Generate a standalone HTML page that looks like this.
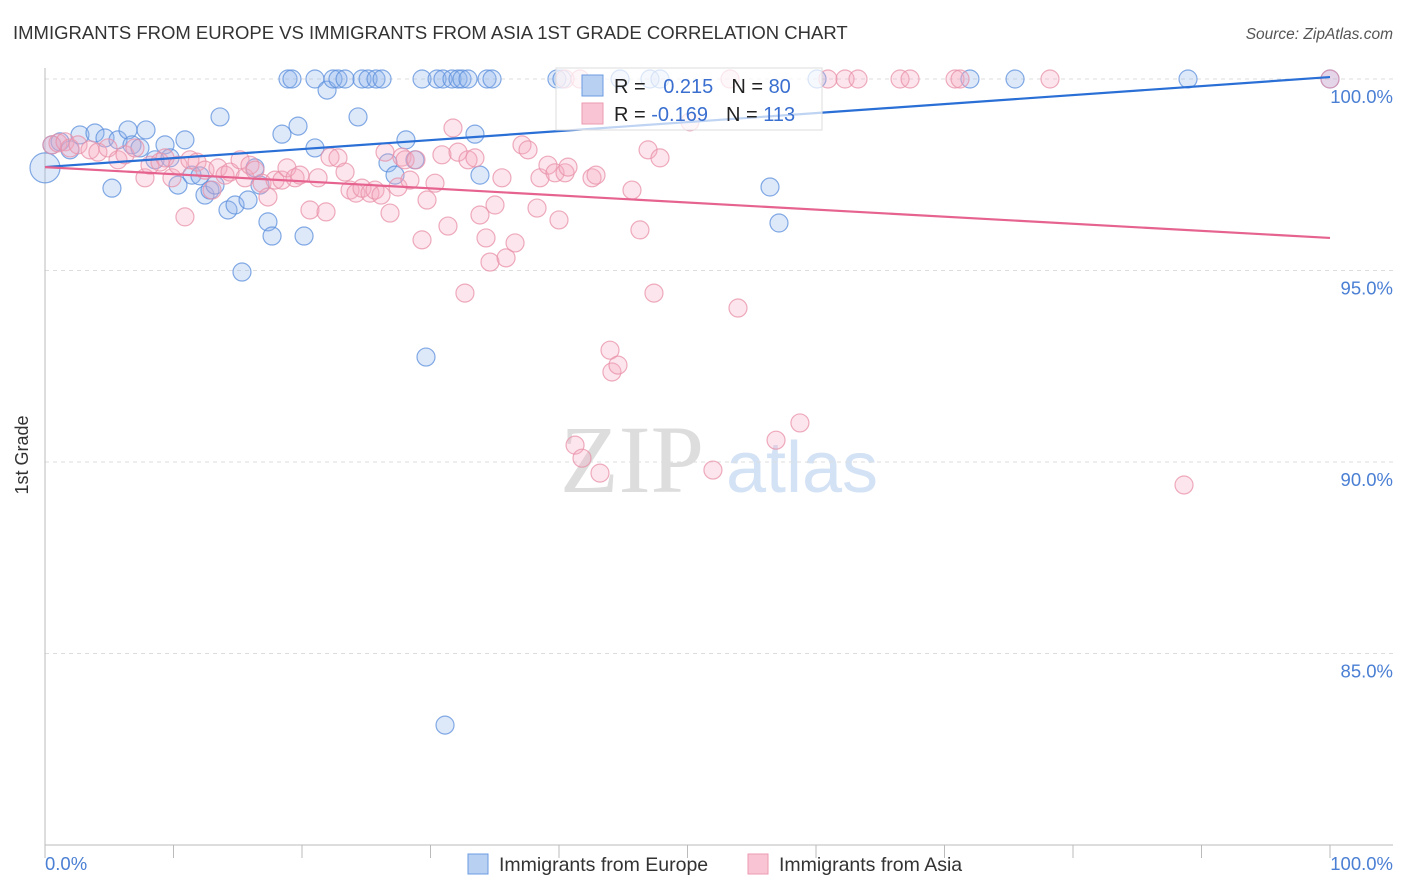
<!DOCTYPE html>
<html><head><meta charset="utf-8"><style>
body{margin:0;background:#fff;font-family:"Liberation Sans",sans-serif}
svg{display:block}
</style></head><body>
<svg width="1406" height="892" viewBox="0 0 1406 892" id="c">
<text x="13" y="39" font-size="18.5" fill="#333">IMMIGRANTS FROM EUROPE VS IMMIGRANTS FROM ASIA 1ST GRADE CORRELATION CHART</text>
<text x="1393" y="39" font-size="15.5" fill="#555" font-style="italic" text-anchor="end">Source: ZipAtlas.com</text>
<g>
<text x="632" y="492" font-size="96" font-family="Liberation Serif,serif" fill="#ddd" text-anchor="middle">ZIP</text>
<text x="802" y="492" font-size="72" fill="#d4e2f5" text-anchor="middle">atlas</text>
</g>
<g id="grid"></g>
<line x1="45" y1="68" x2="45" y2="845" stroke="#bbb"/>
<line x1="45" y1="845" x2="1393" y2="845" stroke="#bbb"/>
<g id="xt"></g>
<text x="28" y="455" font-size="18" fill="#333" text-anchor="middle" transform="rotate(-90 28 455)">1st Grade</text>
<text x="45" y="870" font-size="18.5" fill="#4a7fd4">0.0%</text>
<text x="1393" y="870" font-size="18.5" fill="#4a7fd4" text-anchor="end">100.0%</text>
<g id="pts"></g>
<g id="lines"></g>
<g>
<rect x="556" y="68" width="266" height="62" fill="#fff" fill-opacity="0.7" stroke="#ddd"/>
<rect x="582" y="75" width="21" height="21" fill="#b8d0f2" stroke="#6b9be0"/>
<rect x="582" y="103" width="21" height="21" fill="#f9c5d4" stroke="#eb9ab2"/>
<text x="614" y="93" font-size="20" fill="#222">R = <tspan fill="#3a6fd0" dx="12">0.215</tspan><tspan fill="#222" dx="18">N = </tspan><tspan fill="#3a6fd0">80</tspan></text>
<text x="614" y="121" font-size="20" fill="#222">R = <tspan fill="#3a6fd0">-0.169</tspan><tspan fill="#222" dx="18">N = </tspan><tspan fill="#3a6fd0">113</tspan></text>
</g>
<g>
<rect x="468" y="854" width="20" height="20" fill="#b8d0f2" stroke="#6b9be0"/>
<text x="499" y="871" font-size="19.5" fill="#333">Immigrants from Europe</text>
<rect x="748" y="854" width="20" height="20" fill="#f9c5d4" stroke="#eb9ab2"/>
<text x="779" y="871" font-size="19.5" fill="#333">Immigrants from Asia</text>
</g>
</svg>
<script>
const yTicks=[100,95,90,85];
const yTickLabels=["100.0%","95.0%","90.0%","85.0%"];
const xTicks=[0,10,20,30,40,50,60,70,80,90,100];
const blueX=[0,0.54,1.17,1.95,2.72,3.89,4.67,5.21,5.68,6.46,6.77,7.39,7.86,8.56,9.34,9.73,10.35,10.89,11.44,12.06,12.45,12.84,13.23,13.62,14.24,14.79,15.33,15.80,16.34,16.73,17.35,17.67,18.44,18.91,19.22,19.69,20.16,21.01,21.01,21.95,22.41,22.80,23.35,24.36,24.67,25.14,25.76,26.23,26.69,27.24,28.09,28.79,29.34,29.65,30.51,30.97,31.13,31.67,32.14,32.45,32.92,33.46,33.85,34.40,34.79,39.84,40.23,44.75,47.08,47.86,56.42,57.12,60.08,71.98,75.49,88.95,100];
const blueY=[97.68,98.28,98.36,98.15,98.54,98.59,98.46,97.15,98.41,98.67,98.28,98.20,98.67,97.89,98.28,97.94,97.23,98.41,97.49,97.47,96.97,97.10,97.23,99.01,96.58,96.71,94.96,96.84,97.68,97.23,96.27,95.90,98.56,100,100,98.77,95.90,98.20,100,99.71,100,100,100,99.01,100,100,100,100,97.81,97.49,98.41,97.89,100,92.74,100,100,83.13,100,100,100,100,98.56,97.49,100,100,100,100,100,100,100,97.18,96.24,100,100,100,100,100];
const pinkX=[0.54,1.01,1.56,1.95,2.57,3.50,4.12,4.90,5.68,6.23,7.00,7.78,8.17,8.95,9.34,9.88,10.35,10.89,11.28,11.83,12.45,13.00,13.46,14.01,14.40,15.18,15.56,15.95,16.34,16.89,17.35,17.90,18.44,18.83,19.46,19.84,20.62,21.25,21.87,22.18,22.80,23.35,23.74,24.20,24.67,25.29,25.68,26.15,26.46,26.85,27.47,27.78,28.02,28.40,28.87,29.34,29.73,30.35,30.89,31.36,31.75,32.14,32.68,32.92,33.46,33.85,34.32,34.63,35.02,35.56,35.88,36.58,37.12,37.59,38.29,38.52,39.14,39.69,40.00,40.47,40.70,41.25,41.79,42.57,42.88,43.19,43.97,44.12,44.59,45.68,46.30,46.93,47.39,47.86,50.19,51.98,53.93,56.89,58.75,60.93,62.26,63.27,66.54,67.32,70.82,71.21,78.21,88.64,100,40.47,41.63,53.31];
const pinkY=[98.28,98.33,98.36,98.20,98.28,98.15,98.09,98.20,97.89,98.02,98.20,97.42,97.75,97.83,97.94,97.42,97.75,96.40,97.89,97.83,97.62,97.10,97.68,97.49,97.57,97.89,97.42,97.75,97.62,97.28,96.92,97.36,97.36,97.68,97.42,97.49,96.58,97.42,96.53,97.96,97.94,97.57,97.10,97.02,97.15,97.02,97.10,96.97,98.09,96.50,97.18,97.96,97.89,97.36,97.89,95.80,96.84,97.28,98.02,96.16,98.72,98.09,94.41,97.89,97.94,96.45,95.85,95.22,96.71,97.42,95.33,95.72,98.28,98.15,96.63,97.42,97.75,97.55,96.32,97.55,97.70,90.44,90.10,97.42,97.49,89.71,92.92,92.35,92.53,97.10,96.06,98.15,94.41,97.94,98.88,89.79,94.02,90.57,91.02,100,100,100,100,100,100,100,100,89.40,100,100,100,100];
const blueTrend=[97.70,100.05];
const pinkTrend=[97.70,95.85];
const NS="http://www.w3.org/2000/svg";
const sx=v=>45+v*12.85;
const sy=v=>79+(100-v)*38.3;
function mk(t,a,p){const e=document.createElementNS(NS,t);for(const k in a)e.setAttribute(k,a[k]);p.appendChild(e);return e;}
const grid=document.getElementById('grid');
yTicks.forEach((t,i)=>{
 const l=mk('line',{x1:45,x2:1393,y1:sy(t),y2:sy(t),stroke:'#ddd','stroke-dasharray':'4,4'},grid);
 
 
 const tx=mk('text',{x:1393,y:sy(t)+24,'font-size':18.5,fill:'#4a7fd4','text-anchor':'end'},grid);
 tx.textContent=yTickLabels[i];
 
 
});
const xt=document.getElementById('xt');
xTicks.forEach(t=>{
 const l=mk('line',{x1:sx(t),x2:sx(t),y1:845,y2:858,stroke:'#bbb'},xt);
 
 
});
const pts=document.getElementById('pts');
function series(X,Y,fill,stroke,name){
 X.forEach((x,i)=>{
  const r=(i===0&&name==='point-europe')?15:9;
  const c=mk('circle',{cx:sx(x),cy:sy(Y[i]),r:r,fill:fill,'fill-opacity':0.3,stroke:stroke,'stroke-opacity':0.75,'stroke-width':1.2},pts);
  
  
 });
}
series(blueX,blueY,'#8db4ec','#5b8fdc','point-europe');
series(pinkX,pinkY,'#f4a9c0','#e890a8','point-asia');
const lines=document.getElementById('lines');
const bl=mk('line',{x1:sx(0),y1:sy(blueTrend[0]),x2:sx(100),y2:sy(blueTrend[1]),stroke:'#2a6fd6','stroke-width':2.2},lines);


const pl=mk('line',{x1:sx(0),y1:sy(pinkTrend[0]),x2:sx(100),y2:sy(pinkTrend[1]),stroke:'#e6638f','stroke-width':2.2},lines);


</script>
</body></html>
